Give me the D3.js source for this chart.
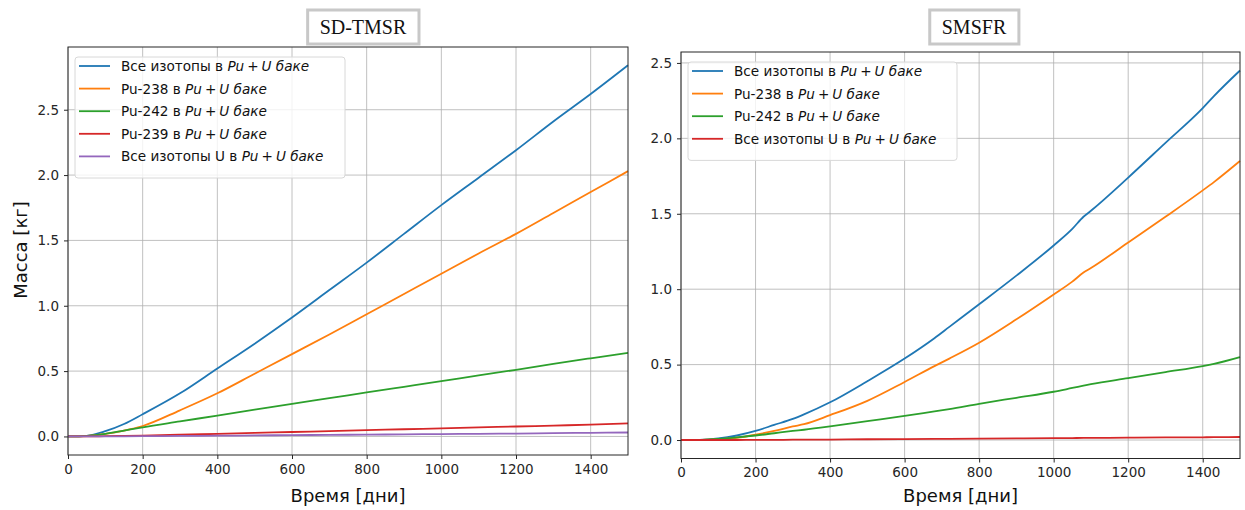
<!DOCTYPE html>
<html>
<head>
<meta charset="utf-8">
<script src="https://cdn.jsdelivr.net/npm/d3@7"></script>
<style>
body { margin: 0; background: #fff; }
svg { font-family: "DejaVu Sans", sans-serif; }
</style>
</head>
<body>
<svg id="chart" width="1245" height="510"></svg>
<script>
// time axis (days) and masses (kg)
const daysLeft = [0, 50, 100, 150, 200, 300, 400, 500, 600, 700, 800, 900, 1000, 1100, 1200, 1300, 1400, 1500]
const leftAll = [0, 0.005, 0.04, 0.095, 0.17, 0.33, 0.52, 0.71, 0.91, 1.12, 1.33, 1.55, 1.77, 1.98, 2.19, 2.41, 2.62, 2.84]
const leftPu238 = [0, 0.003, 0.02, 0.045, 0.08, 0.2, 0.33, 0.48, 0.63, 0.78, 0.935, 1.09, 1.245, 1.4, 1.55, 1.71, 1.87, 2.03]
const leftPu242 = [0, 0.005, 0.02, 0.045, 0.07, 0.115, 0.16, 0.205, 0.25, 0.293, 0.337, 0.38, 0.423, 0.467, 0.51, 0.555, 0.598, 0.64]
const leftPu239 = [0, 0, 0.002, 0.004, 0.007, 0.013, 0.02, 0.027, 0.034, 0.041, 0.048, 0.055, 0.062, 0.069, 0.076, 0.083, 0.09, 0.1]
const leftU = [0, 0, 0.001, 0.001, 0.002, 0.004, 0.006, 0.008, 0.01, 0.012, 0.014, 0.016, 0.018, 0.02, 0.022, 0.025, 0.028, 0.03]

const daysRight = [0, 50, 100, 150, 200, 250, 300, 330, 400, 500, 600, 680, 720, 800, 900, 1000, 1050, 1080, 1100, 1200, 1300, 1400, 1430, 1500]
const rightAll = [0, 0.001, 0.01, 0.03, 0.06, 0.1, 0.14, 0.17, 0.25, 0.39, 0.54, 0.675, 0.75, 0.9, 1.09, 1.29, 1.4, 1.48, 1.52, 1.74, 1.97, 2.2, 2.28, 2.45]
const rightPu238 = [0, 0.0005, 0.005, 0.015, 0.035, 0.06, 0.09, 0.105, 0.165, 0.26, 0.385, 0.49, 0.54, 0.645, 0.8, 0.965, 1.05, 1.11, 1.14, 1.31, 1.48, 1.655, 1.71, 1.85]
const rightPu242 = [0, 0.001, 0.008, 0.018, 0.03, 0.045, 0.06, 0.068, 0.09, 0.125, 0.16, 0.19, 0.205, 0.24, 0.28, 0.32, 0.345, 0.36, 0.37, 0.41, 0.45, 0.49, 0.505, 0.55]
const rightU = [0, 0, 0, 0, 0.001, 0.001, 0.002, 0.002, 0.003, 0.005, 0.006, 0.007, 0.008, 0.009, 0.011, 0.012, 0.013, 0.014, 0.014, 0.016, 0.017, 0.018, 0.019, 0.02]

const xTicks = [0, 200, 400, 600, 800, 1000, 1200, 1400]
const yTicks = [0, 0.5, 1, 1.5, 2, 2.5]

const colors = ["#1f77b4", "#ff7f0e", "#2ca02c", "#d62728", "#9467bd"]

const svg = d3.select("#chart")

function drawPanel(opt){
	const x = d3.scaleLinear().domain([0, 1500]).range([opt.left, opt.right])
	const y = d3.scaleLinear().domain(opt.ydomain).range([opt.bottom, opt.top])
	const g = svg.append("g")

	// grid
	g.selectAll(".gx").data(xTicks).enter().append("line")
		.attr("x1", d=>x(d)).attr("x2", d=>x(d))
		.attr("y1", opt.top).attr("y2", opt.bottom)
		.attr("stroke", "#b0b0b0").attr("stroke-width", 0.8)
	g.selectAll(".gy").data(yTicks).enter().append("line")
		.attr("x1", opt.left).attr("x2", opt.right)
		.attr("y1", d=>y(d)).attr("y2", d=>y(d))
		.attr("stroke", "#b0b0b0").attr("stroke-width", 0.8)

	// series
	const line = d3.line().x((d,i)=>x(opt.days[i])).y(d=>y(d)).curve(d3.curveMonotoneX)
	opt.series.forEach((s,i)=>{
		g.append("path").datum(s.values)
			.attr("d", line)
			.attr("fill", "none")
			.attr("stroke", colors[i])
			.attr("stroke-width", 1.8)
	})

	// axes
	const xAxis = g.append("g").attr("transform", "translate(0,"+opt.bottom+")")
		.call(d3.axisBottom(x).tickValues(xTicks).tickFormat(d3.format("d")).tickSize(4).tickPadding(5))
	const yAxis = g.append("g").attr("transform", "translate("+opt.left+",0)")
		.call(d3.axisLeft(y).tickValues(yTicks).tickFormat(d3.format(".1f")).tickSize(4).tickPadding(5))
	;[xAxis, yAxis].forEach(a=>{
		a.select(".domain").remove()
		a.selectAll("text").attr("font-size", 13.5).attr("fill", "#262626").attr("font-family", "DejaVu Sans")
		a.selectAll("line").attr("stroke", "#262626")
	})
	g.append("rect")
		.attr("x", opt.left).attr("y", opt.top)
		.attr("width", opt.right-opt.left).attr("height", opt.bottom-opt.top)
		.attr("fill", "none").attr("stroke", "#262626").attr("stroke-width", 1)

	// x label
	g.append("text").attr("x", (opt.left+opt.right)/2).attr("y", 502)
		.attr("text-anchor", "middle").attr("font-size", 18).attr("fill", "#111")
		.text("Время [дни]")

	// title box
	const tg = g.append("g")
	const box = tg.append("rect")
	const title = tg.append("text").attr("x", opt.titleX).attr("y", 34)
		.attr("text-anchor", "middle").attr("font-family", "Liberation Serif, serif")
		.attr("font-size", 20).attr("fill", "#111").text(opt.title)
	const bb = title.node().getBBox()
	box.attr("x", bb.x-12).attr("y", 10)
		.attr("width", bb.width+24).attr("height", 34)
		.attr("fill", "#fff").attr("stroke", "#c8c8c8").attr("stroke-width", 3)

	// legend
	const lg = g.append("g")
	const rowH = 22.6
	lg.append("rect")
		.attr("x", opt.legX).attr("y", opt.legY)
		.attr("width", opt.legW).attr("height", opt.series.length*rowH+8)
		.attr("rx", 3).attr("fill", "#fff").attr("fill-opacity", 0.8)
		.attr("stroke", "#d8d8d8").attr("stroke-width", 1)
	opt.series.forEach((s,i)=>{
		const cy = opt.legY+9+i*rowH
		lg.append("line").attr("x1", opt.legX+4).attr("x2", opt.legX+35)
			.attr("y1", cy).attr("y2", cy)
			.attr("stroke", colors[i]).attr("stroke-width", 1.8)
		const t = lg.append("text").attr("x", opt.legX+46).attr("y", cy+5)
			.attr("font-size", 13.6).attr("fill", "#111")
		t.append("tspan").text(s.label+" в ")
		t.append("tspan").attr("font-style", "italic").text("Pu")
		t.append("tspan").attr("font-style", "italic").attr("dx", 3).text("+")
		t.append("tspan").attr("font-style", "italic").attr("dx", 3).text("U баке")
	})
}

drawPanel({
	left: 68, right: 628, top: 47, bottom: 455,
	ydomain: [-0.142, 2.98],
	days: daysLeft,
	title: "SD-TMSR", titleX: 363,
	legX: 75, legY: 57, legW: 270,
	series: [
		{label: "Все изотопы", values: leftAll},
		{label: "Pu-238", values: leftPu238},
		{label: "Pu-242", values: leftPu242},
		{label: "Pu-239", values: leftPu239},
		{label: "Все изотопы U", values: leftU}
	]
})

drawPanel({
	left: 681, right: 1240, top: 52, bottom: 458.5,
	ydomain: [-0.1225, 2.5725],
	days: daysRight,
	title: "SMSFR", titleX: 974,
	legX: 688, legY: 62, legW: 269,
	series: [
		{label: "Все изотопы", values: rightAll},
		{label: "Pu-238", values: rightPu238},
		{label: "Pu-242", values: rightPu242},
		{label: "Все изотопы U", values: rightU}
	]
})

// y label
svg.append("text")
	.attr("transform", "translate(27,250) rotate(-90)")
	.attr("text-anchor", "middle").attr("font-size", 18).attr("fill", "#111")
	.text("Масса [кг]")
</script>
</body>
</html>
